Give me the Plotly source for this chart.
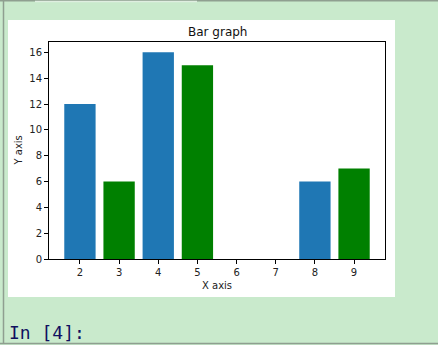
import plotly.graph_objects as go

x_vals = [2, 3, 4, 5, 8, 9]
y_vals = [12, 6, 16, 15, 6, 7]
bar_colors = ["#1f77b4", "#008000", "#1f77b4", "#008000", "#1f77b4", "#008000"]
x_ticks = [2, 3, 4, 5, 6, 7, 8, 9]
y_ticks = [0, 2, 4, 6, 8, 10, 12, 14, 16]

W, H = 438, 345
L, R, T, B = 49, 385, 42, 259
pw, ph = R - L, B - T

def px(x):
    return (x - L) / pw

def py(y):
    return (B - y) / ph

fig = go.Figure(go.Bar(x=x_vals, y=y_vals, marker=dict(color=bar_colors, line=dict(width=0)), width=0.8))

fig.update_layout(
    width=W, height=H,
    margin=dict(l=L, r=W - R, t=T, b=H - B, pad=0),
    paper_bgcolor="#c9eacc",
    plot_bgcolor="white",
    showlegend=False,
    font=dict(family="DejaVu Sans", size=10, color="#222"),
)
fig.update_xaxes(range=[1.21, 9.79], tickvals=x_ticks, showline=True, linecolor="black", linewidth=1,
                 mirror=True, ticks="outside", ticklen=4, tickcolor="black", showgrid=False, zeroline=False,
                 tickfont=dict(size=10, color="#222"))
fig.update_yaxes(range=[0, 16.8], tickvals=y_ticks, showline=True, linecolor="black", linewidth=1,
                 mirror=True, ticks="outside", ticklen=4, tickcolor="black", showgrid=False, zeroline=False,
                 tickfont=dict(size=10, color="#222"))

shapes = [
    dict(type="rect", xref="paper", yref="paper", x0=px(8), x1=px(395), y0=py(297), y1=py(20),
         fillcolor="white", line=dict(width=0), layer="below"),
    dict(type="line", xref="paper", yref="paper", x0=px(3.5), x1=px(3.5), y0=py(0), y1=py(344),
         line=dict(color="#8f9f90", width=1.5)),
    dict(type="line", xref="paper", yref="paper", x0=px(0), x1=px(438), y0=py(0.8), y1=py(0.8),
         line=dict(color="#8f9f90", width=1.5)),
    dict(type="line", xref="paper", yref="paper", x0=px(35), x1=px(197), y0=py(1.5), y1=py(1.5),
         line=dict(color="#dfeee0", width=1.5)),
    dict(type="line", xref="paper", yref="paper", x0=px(0), x1=px(438), y0=py(343.5), y1=py(343.5),
         line=dict(color="#8f9f90", width=1.5)),
]
fig.update_layout(shapes=shapes)

annotations = [
    dict(text="Bar graph", x=0.5, y=py(32), xref="paper", yref="paper", showarrow=False,
         font=dict(size=12, color="#111"), xanchor="center", yanchor="middle"),
    dict(text="X axis", x=0.5, y=py(285), xref="paper", yref="paper", showarrow=False,
         font=dict(size=10, color="#222"), xanchor="center", yanchor="middle"),
    dict(text="Y axis", x=px(18), y=0.5, xref="paper", yref="paper", showarrow=False, textangle=-90,
         font=dict(size=10, color="#222"), xanchor="center", yanchor="middle"),
    dict(text="In [4]:", x=px(7), y=py(332), xref="paper", yref="paper", showarrow=False,
         font=dict(family="DejaVu Sans Mono", size=18, color="#101060"), xanchor="left", yanchor="middle"),
]
fig.update_layout(annotations=annotations)

fig.write_html("out.html")
